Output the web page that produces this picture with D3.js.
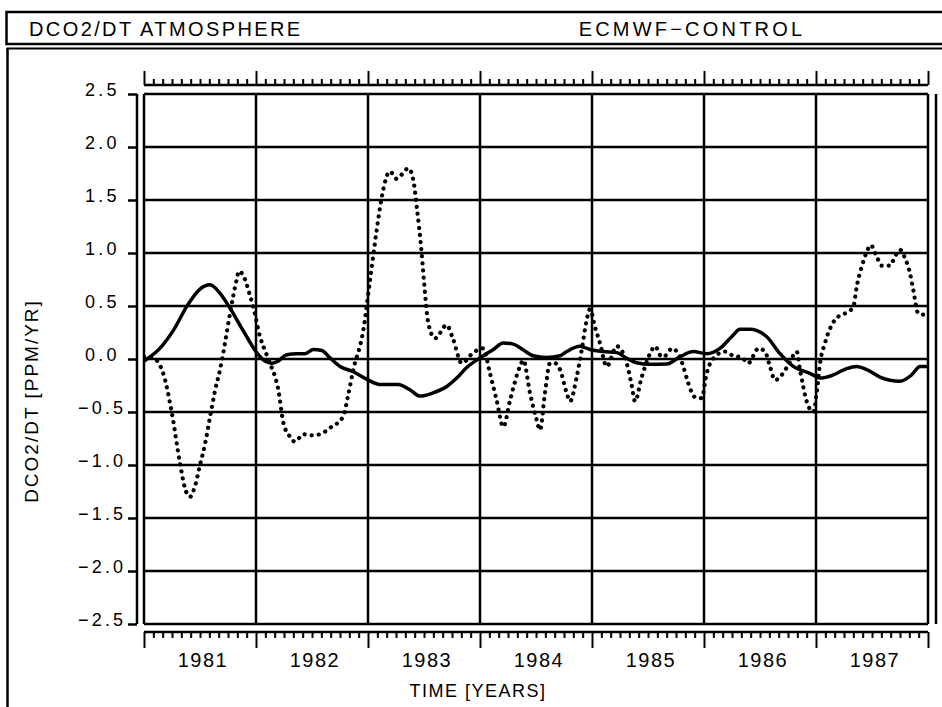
<!DOCTYPE html>
<html>
<head>
<meta charset="utf-8">
<script src="https://cdn.jsdelivr.net/npm/d3@7"></script>
<style>
  html, body { margin: 0; padding: 0; background: #fff; }
  svg { display: block; }
  text { font-family: "Liberation Sans", Arial, sans-serif; fill: #000; }
</style>
</head>
<body>
<svg id="chart" width="942" height="707"></svg>
<script>
// ---------------- data ----------------
const headerLeft = "DCO2/DT ATMOSPHERE";
const headerRight = "ECMWF\u2212CONTROL";
const yTitle = "DCO2/DT [PPM/YR]";
const xTitle = "TIME [YEARS]";

const yearLabels = ["1981", "1982", "1983", "1984", "1985", "1986", "1987"];
const yTickValues = [-2.5, -2.0, -1.5, -1.0, -0.5, 0.0, 0.5, 1.0, 1.5, 2.0, 2.5];

// solid curve
const solidTime = [1981.000, 1981.158, 1981.262, 1981.396, 1981.500, 1981.589, 1981.679, 1981.768, 1981.884,
  1982.006, 1982.080, 1982.140, 1982.196, 1982.274, 1982.363, 1982.438, 1982.512, 1982.587, 1982.661, 1982.750,
  1982.869, 1982.988, 1983.107, 1983.268, 1983.375, 1983.464, 1983.580, 1983.703, 1983.792, 1983.881,
  1984.000, 1984.119, 1984.208, 1984.297, 1984.387, 1984.476, 1984.596, 1984.714, 1984.774, 1984.893, 1984.982,
  1985.101, 1985.221, 1985.310, 1985.399, 1985.518, 1985.667, 1985.786, 1985.904,
  1986.024, 1986.143, 1986.247, 1986.321, 1986.411, 1986.560, 1986.679, 1986.797, 1986.946,
  1987.036, 1987.154, 1987.274, 1987.363, 1987.453, 1987.571, 1987.750, 1987.854, 1987.929, 1988.000];
const solidValue = [-0.02, 0.12, 0.27, 0.52, 0.66, 0.70, 0.62, 0.48, 0.27,
  0.06, -0.02, -0.04, -0.02, 0.04, 0.05, 0.05, 0.09, 0.08, 0.01, -0.07,
  -0.12, -0.19, -0.24, -0.24, -0.29, -0.35, -0.32, -0.26, -0.18, -0.08,
  0.01, 0.09, 0.15, 0.14, 0.085, 0.03, 0.015, 0.03, 0.07, 0.12, 0.09,
  0.07, 0.06, 0.006, -0.035, -0.05, -0.047, 0.02, 0.07,
  0.05, 0.10, 0.21, 0.28, 0.28, 0.21, 0.05, -0.07, -0.135,
  -0.18, -0.15, -0.09, -0.07, -0.10, -0.17, -0.21, -0.15, -0.07, -0.07];

// dotted curve
const dotTime = [1981.000, 1981.080, 1981.170, 1981.247, 1981.321, 1981.366, 1981.411, 1981.455, 1981.500,
  1981.545, 1981.589, 1981.634, 1981.679, 1981.723, 1981.768, 1981.828, 1981.848, 1981.902, 1981.946, 1981.976,
  1982.036, 1982.080, 1982.125, 1982.199, 1982.244, 1982.295, 1982.348, 1982.422, 1982.497, 1982.571, 1982.661,
  1982.780, 1982.821, 1982.869, 1982.958,
  1983.018, 1983.078, 1983.122, 1983.196, 1983.256, 1983.301, 1983.360, 1983.404, 1983.435, 1983.479, 1983.509,
  1983.538, 1983.598, 1983.703, 1983.762, 1983.837, 1983.940,
  1984.029, 1984.089, 1984.149, 1984.208, 1984.268, 1984.357, 1984.387, 1984.446, 1984.506, 1984.536, 1984.580,
  1984.625, 1984.670, 1984.714, 1984.774, 1984.804, 1984.863, 1984.908, 1984.953, 1984.982,
  1985.027, 1985.071, 1985.131, 1985.221, 1985.310, 1985.354, 1985.384, 1985.444, 1985.518, 1985.563, 1985.622,
  1985.667, 1985.712, 1985.771, 1985.815, 1985.860, 1985.920, 1985.979,
  1986.024, 1986.083, 1986.188, 1986.262, 1986.337, 1986.396, 1986.440, 1986.485, 1986.545, 1986.589, 1986.634,
  1986.694, 1986.753, 1986.828, 1986.857, 1986.917, 1986.976,
  1987.006, 1987.036, 1987.080, 1987.140, 1987.199, 1987.259, 1987.333, 1987.363, 1987.408, 1987.453, 1987.488,
  1987.542, 1987.587, 1987.661, 1987.705, 1987.750, 1987.795, 1987.839, 1987.869, 1987.913, 1987.988];
const dotValue = [0.02, 0.01, -0.13, -0.50, -0.98, -1.22, -1.30, -1.20, -1.00,
  -0.80, -0.55, -0.30, -0.10, 0.15, 0.43, 0.75, 0.83, 0.75, 0.60, 0.49,
  0.21, 0.08, -0.04, -0.29, -0.60, -0.72, -0.78, -0.71, -0.72, -0.71, -0.65,
  -0.54, -0.35, -0.10, 0.27,
  0.745, 1.22, 1.52, 1.77, 1.70, 1.74, 1.80, 1.69, 1.44, 1.00, 0.62,
  0.34, 0.195, 0.32, 0.18, -0.04, 0.06,
  0.10, -0.135, -0.39, -0.64, -0.39, -0.07, -0.01, -0.32, -0.575, -0.67, -0.32,
  -0.04, -0.04, -0.10, -0.32, -0.40, -0.17, 0.085, 0.37, 0.47,
  0.30, 0.15, -0.07, 0.12, -0.04, -0.245, -0.40, -0.17, 0.05, 0.12, 0.02,
  0.04, 0.10, 0.05, -0.07, -0.23, -0.36, -0.37,
  -0.135, 0.006, 0.07, 0.03, 0.015, -0.04, 0.03, 0.10, 0.07, -0.07, -0.20,
  -0.15, -0.057, 0.07, -0.10, -0.40, -0.50,
  -0.32, -0.04, 0.15, 0.32, 0.40, 0.43, 0.49, 0.68, 0.87, 1.01, 1.075,
  0.965, 0.88, 0.88, 0.965, 1.03, 0.95, 0.81, 0.65, 0.43, 0.415];

// ---------------- drawing ----------------
const svg = d3.select("#chart");
const W = 942, H = 707;

const x = d3.scaleLinear().domain([1981, 1988]).range([144, 928]);
const y = d3.scaleLinear().domain([-2.5, 2.5]).range([624, 94]);

// header box
svg.append("rect").attr("x", 6.5).attr("y", 12).attr("width", W + 10).attr("height", 32)
  .attr("fill", "none").attr("stroke", "#000").attr("stroke-width", 2.5);
svg.append("text").attr("x", 29).attr("y", 36).attr("font-size", 20)
  .attr("letter-spacing", 2.4).text(headerLeft);
svg.append("text").attr("x", 692).attr("y", 36).attr("font-size", 20).attr("text-anchor", "middle")
  .attr("letter-spacing", 3.2).text(headerRight);

// outer frame (top + left)
svg.append("line").attr("x1", 6.5).attr("x2", W + 5).attr("y1", 48.5).attr("y2", 48.5)
  .attr("stroke", "#000").attr("stroke-width", 2);
svg.append("line").attr("x1", 7.5).attr("x2", 7.5).attr("y1", 48).attr("y2", H)
  .attr("stroke", "#000").attr("stroke-width", 2.5);
// right frame segment
svg.append("line").attr("x1", 936).attr("x2", 936).attr("y1", y(2.5)).attr("y2", y(-2.5))
  .attr("stroke", "#000").attr("stroke-width", 2.5);

// grid
const years = d3.range(1981, 1989);
const g = svg.append("g");
g.selectAll("line.h").data(yTickValues).join("line").attr("class", "h")
  .attr("x1", x(1981)).attr("x2", x(1988)).attr("y1", d => y(d)).attr("y2", d => y(d))
  .attr("stroke", "#000").attr("stroke-width", 2.5);
g.selectAll("line.v").data(years).join("line").attr("class", "v")
  .attr("x1", d => x(d)).attr("x2", d => x(d)).attr("y1", y(2.5)).attr("y2", y(-2.5))
  .attr("stroke", "#000").attr("stroke-width", 2.5);

// y axis (separate, offset left)
const yAxis = d3.axisLeft(y).tickValues(yTickValues).tickSize(9).tickPadding(0)
  .tickFormat(d3.format(".1f"));
const ya = svg.append("g").attr("transform", "translate(137,0)").call(yAxis);
ya.select(".domain").attr("stroke-width", 2.5).attr("d", `M0,${y(2.5)}V${y(-2.5)}`);
ya.selectAll(".tick line").attr("stroke-width", 2.5);
ya.selectAll(".tick text").attr("text-anchor", "start").attr("x", d => d < 0 ? -59 : -52).attr("dy", "0")
  .attr("y", 1).attr("font-size", 18).attr("letter-spacing", 3.2)
  .style("font-family", "'Liberation Sans', Arial, sans-serif");

// month ticks
const months = d3.range(0, 85).map(i => 1981 + i / 12);
const isMajor = d => Math.abs(d - Math.round(d)) < 1e-6;

const topAxis = d3.axisTop(x).tickValues(months).tickSize(6).tickFormat("");
const ta = svg.append("g").attr("transform", "translate(0,85)").call(topAxis);
ta.select(".domain").attr("stroke-width", 2.5).attr("d", `M${x(1981)},0H${x(1988)}`);
ta.selectAll(".tick line").attr("stroke-width", 2).attr("y2", d => isMajor(d) ? -14 : -6);

const botAxis = d3.axisBottom(x).tickValues(months).tickSize(6).tickFormat("");
const ba = svg.append("g").attr("transform", "translate(0,632)").call(botAxis);
ba.select(".domain").attr("stroke-width", 2.5).attr("d", `M${x(1981)},0H${x(1988)}`);
ba.selectAll(".tick line").attr("stroke-width", 2).attr("y2", d => isMajor(d) ? 16 : 6);

// year labels centred in each year
svg.append("g").selectAll("text").data(yearLabels).join("text")
  .attr("x", d => x(+d + 0.5) + 3).attr("y", 667).attr("text-anchor", "middle")
  .attr("font-size", 20).attr("letter-spacing", 1.5).text(d => d);

// axis titles
svg.append("text").attr("x", 478).attr("y", 697).attr("text-anchor", "middle")
  .attr("font-size", 18).attr("letter-spacing", 1.5).text(xTitle);
svg.append("text").attr("transform", "translate(38,401) rotate(-90)").attr("text-anchor", "middle")
  .attr("font-size", 19).attr("letter-spacing", 2).text(yTitle);

// data lines
const clip = svg.append("clipPath").attr("id", "plotclip").append("rect")
  .attr("x", x(1981)).attr("y", y(2.5)).attr("width", x(1988) - x(1981)).attr("height", y(-2.5) - y(2.5));

const solidData = solidTime.map((t, i) => [t, solidValue[i]]);
const dotData = dotTime.map((t, i) => [t, dotValue[i]]);
const line = d3.line().x(d => x(d[0])).y(d => y(d[1])).curve(d3.curveMonotoneX);

svg.append("path").attr("d", line(dotData)).attr("fill", "none").attr("stroke", "#000")
  .attr("stroke-width", 4.2).attr("stroke-linecap", "round").attr("stroke-dasharray", "0.1 7")
  .attr("clip-path", "url(#plotclip)");
svg.append("path").attr("d", line(solidData)).attr("fill", "none").attr("stroke", "#000")
  .attr("stroke-width", 3.5).attr("stroke-linejoin", "round")
  .attr("clip-path", "url(#plotclip)");
</script>
</body>
</html>
